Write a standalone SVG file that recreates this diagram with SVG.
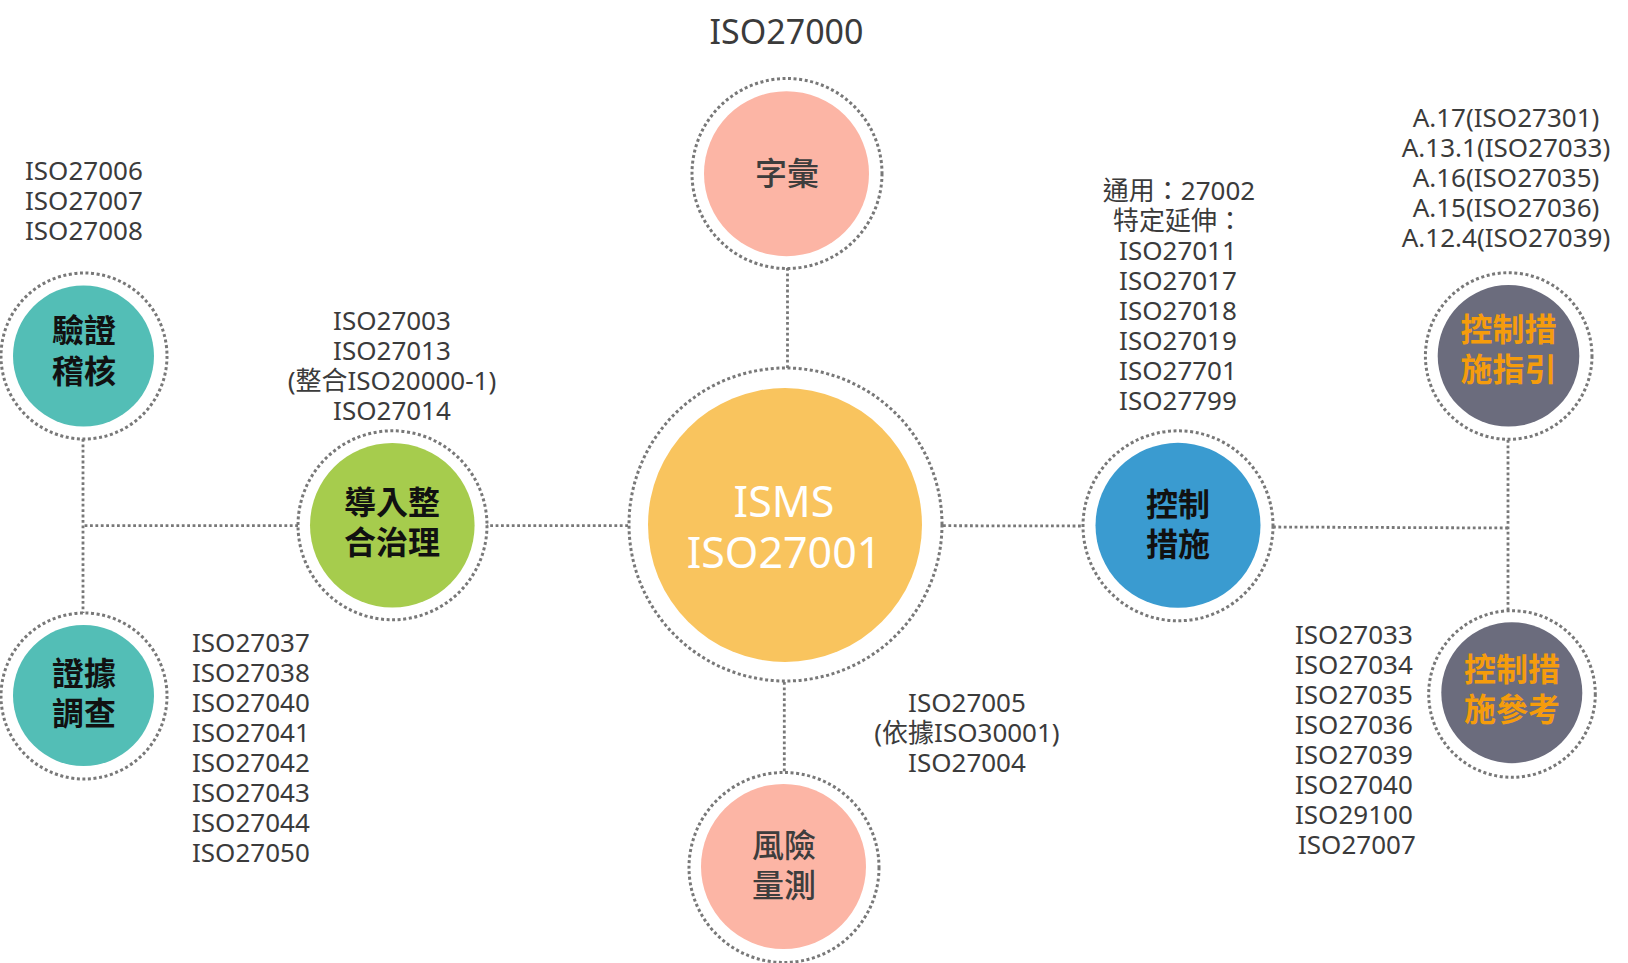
<svg xmlns="http://www.w3.org/2000/svg" width="1628" height="963" viewBox="0 0 1628 963">
<style>
.ring{fill:none;stroke:#787878;stroke-width:3;stroke-dasharray:3 2.6}
.conn{fill:none;stroke:#787878;stroke-width:2.8;stroke-dasharray:2.8 2.6}
.t{font-family:"Noto Sans","Open Sans","Noto Sans CJK TC",sans-serif;font-size:26px;fill:#3b3b3b}
.c{text-anchor:middle}
.lbl{font-family:"Noto Sans CJK TC","Noto Sans",sans-serif;font-size:32px;font-weight:bold;text-anchor:middle}
.dark{fill:#111}
.gray{fill:#3d3d3d;font-weight:500}
.orange{fill:#f59c0c}
</style>
<rect width="1628" height="963" fill="#fff"/>
<g id="connectors">
<line class="conn" x1="787.5" y1="268" x2="787.5" y2="368"/>
<line class="conn" x1="784.3" y1="682" x2="784.3" y2="773"/>
<line class="conn" x1="628" y1="525.7" x2="487" y2="525.7"/>
<line class="conn" x1="298" y1="525.7" x2="83" y2="525.7"/>
<line class="conn" x1="83" y1="439" x2="83" y2="613"/>
<line class="conn" x1="943" y1="525.7" x2="1083" y2="526"/>
<line class="conn" x1="1273" y1="527" x2="1508" y2="528"/>
<line class="conn" x1="1508" y1="440" x2="1508" y2="611"/>
</g>
<text class="t c" x="786.5" y="44" style="font-size:34px">ISO27000</text>
<g id="center">
<circle class="ring" cx="785.5" cy="524.5" r="156.5"/>
<circle cx="785" cy="525" r="137" fill="#f9c45e"/>
<text class="c" x="784" y="516.7" style="font-family:'Noto Sans','Open Sans',sans-serif;font-size:43px;fill:#fff">ISMS</text>
<text class="c" x="784" y="567.7" style="font-family:'Noto Sans','Open Sans',sans-serif;font-size:43px;fill:#fff">ISO27001</text>
</g>
<g id="vocab">
<circle class="ring" cx="787" cy="173.5" r="95"/>
<circle cx="786.5" cy="173.7" r="82.5" fill="#fcb5a5"/>
<text class="lbl gray" x="787" y="184.5">字彙</text>
</g>
<g id="risk">
<circle class="ring" cx="784" cy="867.5" r="95"/>
<circle cx="783.5" cy="866.5" r="82.5" fill="#fcb5a5"/>
<text class="lbl gray" x="784" y="857">風險</text>
<text class="lbl gray" x="784" y="897">量測</text>
</g>
<g id="governance">
<circle class="ring" cx="392.5" cy="525.3" r="94.5"/>
<circle cx="392.3" cy="525.3" r="82.3" fill="#a6cc4d"/>
<text class="lbl dark" x="392" y="514">導入整</text>
<text class="lbl dark" x="392" y="554">合治理</text>
</g>
<g id="audit">
<circle class="ring" cx="84" cy="356" r="83"/>
<circle cx="83.5" cy="356" r="70.5" fill="#53beb6"/>
<text class="lbl dark" x="84" y="342">驗證</text>
<text class="lbl dark" x="84" y="383">稽核</text>
</g>
<g id="forensics">
<circle class="ring" cx="84" cy="696" r="83"/>
<circle cx="83.5" cy="695.5" r="70.5" fill="#53beb6"/>
<text class="lbl dark" x="84" y="685">證據</text>
<text class="lbl dark" x="84" y="725">調查</text>
</g>
<g id="controls">
<circle class="ring" cx="1178" cy="525.8" r="95"/>
<circle cx="1178" cy="525.3" r="82.5" fill="#3a9bd0"/>
<text class="lbl dark" x="1178" y="516">控制</text>
<text class="lbl dark" x="1178" y="556">措施</text>
</g>
<g id="guide">
<circle class="ring" cx="1508.7" cy="356" r="83.3"/>
<circle cx="1508.5" cy="355.8" r="70.8" fill="#6b6c7d"/>
<text class="lbl orange" x="1508.5" y="341">控制措</text>
<text class="lbl orange" x="1508.5" y="381">施指引</text>
</g>
<g id="reference">
<circle class="ring" cx="1512" cy="694" r="83.3"/>
<circle cx="1511.8" cy="692.7" r="70.5" fill="#6b6c7d"/>
<text class="lbl orange" x="1512" y="681">控制措</text>
<text class="lbl orange" x="1512" y="721">施參考</text>
</g>
<g id="labels">
<text class="t" x="25" y="180">ISO27006</text>
<text class="t" x="25" y="210">ISO27007</text>
<text class="t" x="25" y="240">ISO27008</text>
<text class="t c" x="392" y="330">ISO27003</text>
<text class="t c" x="392" y="360">ISO27013</text>
<text class="t c" x="392" y="390">(整合ISO20000-1)</text>
<text class="t c" x="392" y="420">ISO27014</text>
<text class="t" x="192" y="652">ISO27037</text>
<text class="t" x="192" y="682">ISO27038</text>
<text class="t" x="192" y="712">ISO27040</text>
<text class="t" x="192" y="742">ISO27041</text>
<text class="t" x="192" y="772">ISO27042</text>
<text class="t" x="192" y="802">ISO27043</text>
<text class="t" x="192" y="832">ISO27044</text>
<text class="t" x="192" y="862">ISO27050</text>
<text class="t c" x="967" y="711.7">ISO27005</text>
<text class="t c" x="967" y="741.7">(依據ISO30001)</text>
<text class="t c" x="967" y="771.7">ISO27004</text>
<text class="t c" x="1179" y="200">通用：27002</text>
<text class="t c" x="1178" y="230">特定延伸：</text>
<text class="t c" x="1178" y="260">ISO27011</text>
<text class="t c" x="1178" y="290">ISO27017</text>
<text class="t c" x="1178" y="320">ISO27018</text>
<text class="t c" x="1178" y="350">ISO27019</text>
<text class="t c" x="1178" y="380">ISO27701</text>
<text class="t c" x="1178" y="410">ISO27799</text>
<text class="t c" x="1506" y="126.7">A.17(ISO27301)</text>
<text class="t c" x="1506" y="156.7">A.13.1(ISO27033)</text>
<text class="t c" x="1506" y="186.7">A.16(ISO27035)</text>
<text class="t c" x="1506" y="216.7">A.15(ISO27036)</text>
<text class="t c" x="1506" y="246.7">A.12.4(ISO27039)</text>
<text class="t" x="1295" y="644">ISO27033</text>
<text class="t" x="1295" y="674">ISO27034</text>
<text class="t" x="1295" y="704">ISO27035</text>
<text class="t" x="1295" y="734">ISO27036</text>
<text class="t" x="1295" y="764">ISO27039</text>
<text class="t" x="1295" y="794">ISO27040</text>
<text class="t" x="1295" y="824">ISO29100</text>
<text class="t" x="1298" y="854">ISO27007</text>
</g>
</svg>
